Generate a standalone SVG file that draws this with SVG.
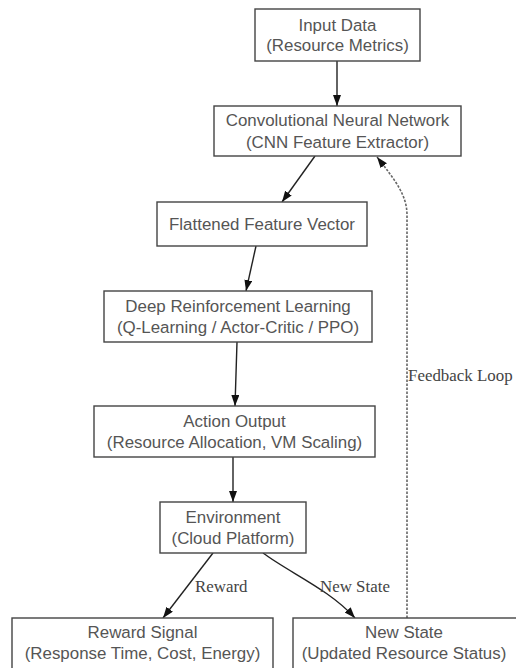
<svg xmlns="http://www.w3.org/2000/svg" width="516" height="668" viewBox="0 0 516 668">
<style>
.box{fill:#fff;stroke:#444;stroke-width:1.4}
.t{font-family:"Liberation Sans",Arial,sans-serif;font-size:16.9px;fill:#555;text-anchor:middle}
.e{fill:none;stroke:#222;stroke-width:1.4}
.d{fill:none;stroke:#666;stroke-width:1.6;stroke-dasharray:2.5,1.5}
.l{font-family:"Liberation Serif","Times New Roman",serif;font-size:16.9px;fill:#444}
</style>
<defs>
<marker id="ah" markerUnits="userSpaceOnUse" markerWidth="12" markerHeight="10" refX="11" refY="4" orient="auto">
<path d="M0,0 L11,4 L0,8 Z" fill="#111"/>
</marker>
</defs>
<rect width="516" height="668" fill="#fff"/>
<g id="connectors">
<path class="e" d="M337,61 L337,106" marker-end="url(#ah)"/>
<path class="e" d="M315,156 L282,202" marker-end="url(#ah)"/>
<path class="e" d="M256,246 L246,291" marker-end="url(#ah)"/>
<path class="e" d="M237,342 L235,406" marker-end="url(#ah)"/>
<path class="e" d="M233,457 L233,502" marker-end="url(#ah)"/>
<path class="e" d="M213,553 L163,618" marker-end="url(#ah)"/>
<path class="e" d="M263,553 C290,573 330,590 355,618" marker-end="url(#ah)"/>
<path class="d" d="M407,618 L407,215 C407,195 395,180 377,157" marker-end="url(#ah)"/>
<text class="l" x="195" y="592">Reward</text>
<text class="l" x="320" y="592">New State</text>
<text class="l" x="408" y="381">Feedback Loop</text>
</g>
<g id="input">
<rect class="box" x="255" y="9" width="165" height="52"/>
<text class="t" x="337.5" y="31">Input Data</text>
<text class="t" x="337.5" y="51">(Resource Metrics)</text>
</g>
<g id="cnn">
<rect class="box" x="214" y="106" width="247" height="50"/>
<text class="t" x="337.5" y="126">Convolutional Neural Network</text>
<text class="t" x="337.5" y="148">(CNN Feature Extractor)</text>
</g>
<g id="flatten">
<rect class="box" x="157" y="202" width="210" height="44"/>
<text class="t" x="262" y="230">Flattened Feature Vector</text>
</g>
<g id="drl">
<rect class="box" x="104" y="291" width="268" height="51"/>
<text class="t" x="238" y="312">Deep Reinforcement Learning</text>
<text class="t" x="238" y="333">(Q-Learning / Actor-Critic / PPO)</text>
</g>
<g id="action">
<rect class="box" x="94" y="406" width="281" height="51"/>
<text class="t" x="234.5" y="427">Action Output</text>
<text class="t" x="234.5" y="448">(Resource Allocation, VM Scaling)</text>
</g>
<g id="env">
<rect class="box" x="160" y="502" width="146" height="51"/>
<text class="t" x="233" y="523">Environment</text>
<text class="t" x="233" y="544">(Cloud Platform)</text>
</g>
<g id="reward">
<rect class="box" x="12" y="618" width="261" height="56"/>
<text class="t" x="142.5" y="638">Reward Signal</text>
<text class="t" x="142.5" y="659">(Response Time, Cost, Energy)</text>
</g>
<g id="newstate">
<rect class="box" x="293" y="618" width="230" height="56"/>
<text class="t" x="404" y="638">New State</text>
<text class="t" x="404" y="659">(Updated Resource Status)</text>
</g>
</svg>
